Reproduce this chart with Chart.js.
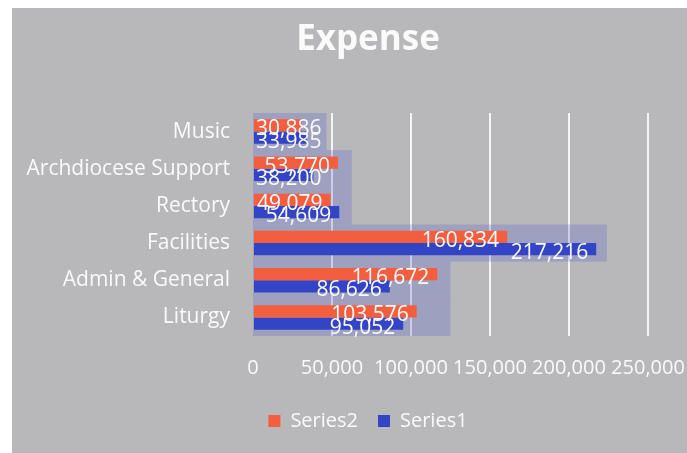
<!DOCTYPE html>
<html>
<head>
<meta charset="utf-8">
<title>Expense</title>
<script src="https://cdn.jsdelivr.net/npm/chart.js@4.4.1/dist/chart.umd.min.js"></script>
<style>
  html, body { margin: 0; padding: 0; background: #ffffff; }
  canvas { display: block; }
</style>
</head>
<body>
<canvas id="expenseChart" width="687" height="453"></canvas>
<script>
// values
const categories = ["Music", "Archdiocese Support", "Rectory", "Facilities", "Admin & General", "Liturgy"];
const series2 = [30886, 53770, 49079, 160834, 116672, 103576];
const series1 = [33985, 38200, 54609, 217216, 86626, 95052];
// the bluish 3D back panel behind each group in the scan
const backPanel = [46500, 62500, 62500, 224000, 125000, 125000];
const xTicks = [0, 50000, 100000, 150000, 200000, 250000];

const WHITE = "#fafafa";
const fmt = (v) => v.toLocaleString("en-US");

/**
 * Paint the grey card with the thin white margin of the scan.
 */
const cardBackground = {
  id: "cardBackground",
  beforeDraw(chart) {
    const ctx = chart.ctx;
    ctx.save();
    ctx.fillStyle = "#ffffff";
    ctx.fillRect(0, 0, chart.width, chart.height);
    ctx.fillStyle = "#b8b8bb";
    ctx.fillRect(12, 8, chart.width - 12, chart.height - 8);
    ctx.restore();
  }
};

/**
 * Translucent back panels, one per category cell, sized on the x scale.
 */
const backPanels = {
  id: "backPanels",
  beforeDatasetsDraw(chart) {
    const ctx = chart.ctx;
    const x = chart.scales.x;
    const y = chart.scales.y;
    ctx.save();
    ctx.fillStyle = "rgba(95, 100, 200, 0.28)";
    backPanel.forEach((v, i) => {
      const top = y.getPixelForValue(i - 0.5);
      const bottom = y.getPixelForValue(i + 0.5);
      const left = x.getPixelForValue(0);
      ctx.fillRect(left, top, x.getPixelForValue(v) - left, bottom - top);
    });
    ctx.restore();
  }
};

/**
 * Value labels at the inside end of each bar, kept from running past the axis.
 */
const barLabels = {
  id: "barLabels",
  afterDatasetsDraw(chart) {
    const ctx = chart.ctx;
    ctx.save();
    ctx.font = "21px 'Open Sans'";
    ctx.fillStyle = WHITE;
    ctx.textAlign = "right";
    ctx.textBaseline = "middle";
    chart.data.datasets.forEach((ds, i) => {
      chart.getDatasetMeta(i).data.forEach((bar, j) => {
        const text = fmt(ds.data[j]);
        const w = ctx.measureText(text).width;
        const right = Math.max(bar.x - 8, bar.base + w + 2);
        ctx.fillText(text, right, bar.y + 4);
      });
    });
    ctx.restore();
  }
};

Chart.defaults.font.family = "'Open Sans'";
Chart.defaults.color = WHITE;

new Chart(document.getElementById("expenseChart"), {
  type: "bar",
  data: {
    labels: categories,
    datasets: [
      {
        label: "Series2",
        data: series2,
        backgroundColor: "#f35e3e",
        categoryPercentage: 0.66,
        barPercentage: 1.0
      },
      {
        label: "Series1",
        data: series1,
        backgroundColor: "#3345c6",
        categoryPercentage: 0.66,
        barPercentage: 1.0
      }
    ]
  },
  options: {
    indexAxis: "y",
    responsive: false,
    animation: false,
    // negative right padding + spacer axis keep title/legend centred like the scan
    layout: { padding: { top: 8, left: 20, right: -29, bottom: 12 } },
    scales: {
      x: {
        min: 0,
        max: 250000,
        afterBuildTicks(scale) {
          scale.ticks = xTicks.map((v) => ({ value: v }));
        },
        afterFit(scale) {
          scale.height = 55;
          // let the last tick label hang past the plot like in the scan
          scale.paddingLeft = 0;
          scale.paddingRight = 0;
        },
        border: { display: false },
        grid: {
          drawTicks: false,
          lineWidth: 2,
          color: (c) => (c.tick && c.tick.value === 0 ? "rgba(0,0,0,0)" : "rgba(255,255,255,0.85)")
        },
        ticks: {
          padding: 20,
          autoSkip: false,
          maxRotation: 0,
          color: WHITE,
          font: { size: 20 },
          callback: (v) => fmt(v)
        }
      },
      y: {
        afterFit(scale) {
          scale.width = 233;
        },
        border: { display: false },
        grid: { display: false, drawTicks: false },
        ticks: { padding: 23, color: WHITE, font: { size: 21 } }
      },
      spacer: {
        type: "category",
        axis: "y",
        position: "right",
        afterFit(scale) {
          scale.width = 68;
        },
        border: { display: false },
        grid: { display: false, drawTicks: false },
        ticks: { display: false }
      }
    },
    plugins: {
      title: {
        display: true,
        text: "Expense",
        color: WHITE,
        font: { size: 35, weight: "bold" },
        padding: { top: 11, bottom: 52 }
      },
      legend: {
        position: "bottom",
        maxHeight: 61,
        labels: {
          color: WHITE,
          font: { size: 20 },
          boxWidth: 12,
          boxHeight: 12,
          padding: 20
        }
      },
      tooltip: { enabled: false }
    }
  },
  plugins: [cardBackground, backPanels, barLabels]
});
</script>
</body>
</html>
